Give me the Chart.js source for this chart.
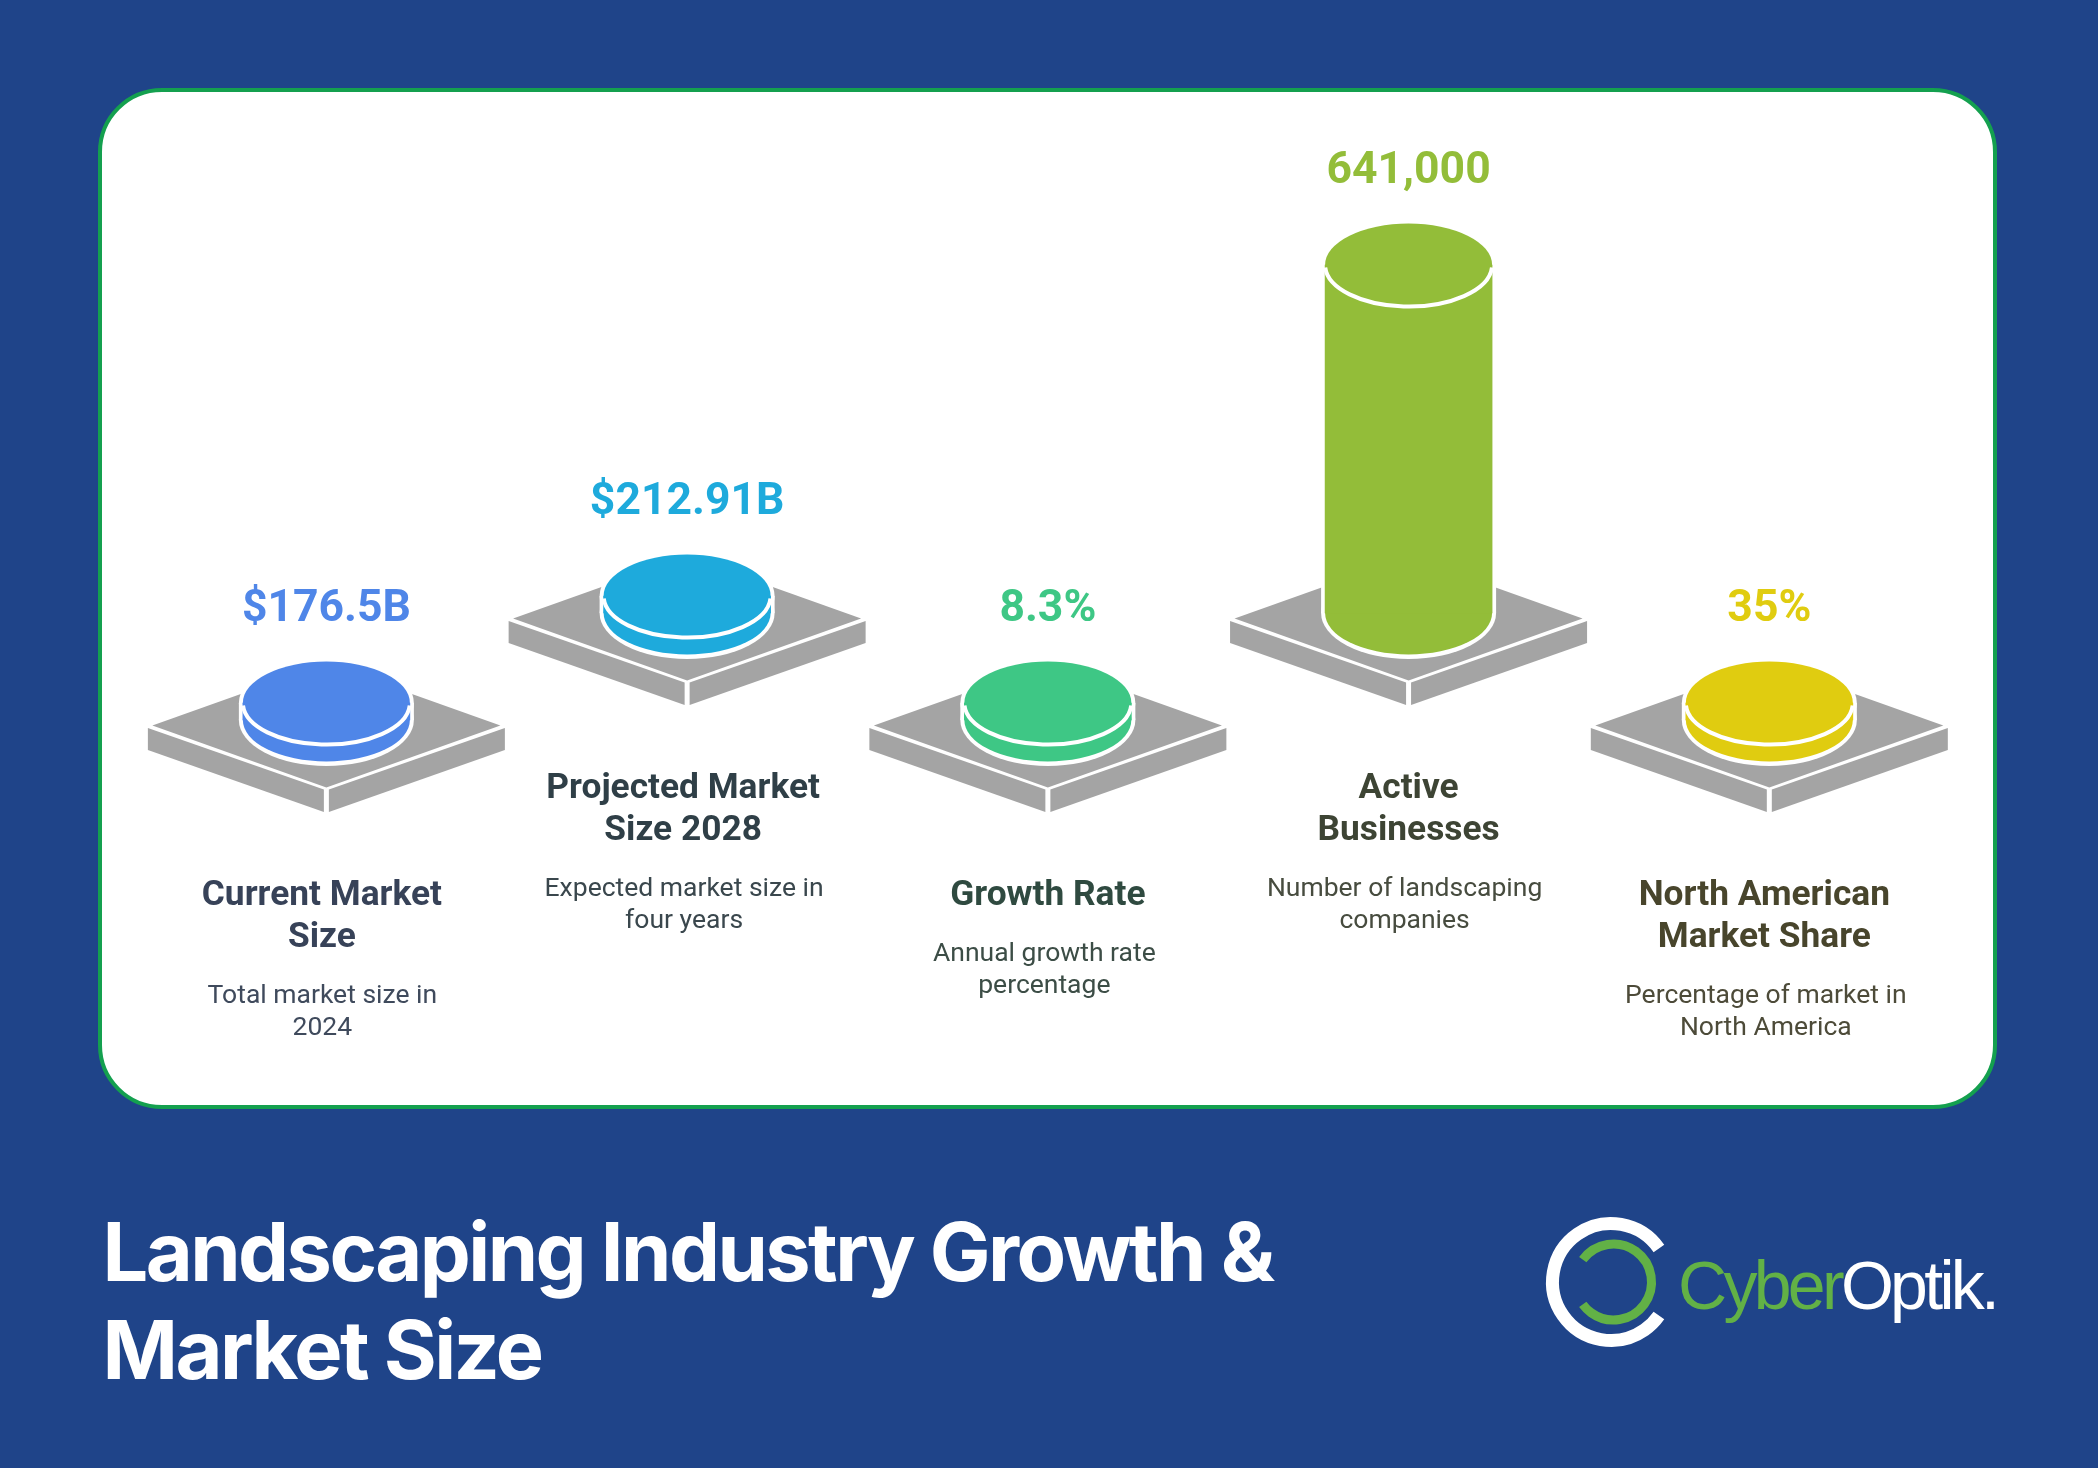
<!DOCTYPE html>
<html><head><meta charset="utf-8">
<script src="https://cdn.jsdelivr.net/npm/chart.js@4"></script>
<style>
html,body{margin:0;padding:0;background:#1f4489;width:2098px;height:1468px;overflow:hidden}
#card{position:absolute;left:98px;top:88px;width:1891px;height:1013px;background:#fff;border:4px solid #14a04f;border-radius:64px}
#wrap{position:absolute;left:0;top:0;width:2098px;height:1468px}
#title{position:absolute;left:102.5px;top:1203px;color:#fff;font:700 81px/98px Inter,sans-serif;letter-spacing:-2.55px;white-space:nowrap}
#brand{position:absolute;left:1678px;top:1245px;font:400 68px/80px "Liberation Sans",sans-serif;letter-spacing:-3.7px;white-space:nowrap}
#brand .a{color:#62b146}#brand .b{color:#fff}
</style></head><body>
<div id="card"></div>
<div id="wrap"><canvas id="c" width="2098" height="1468"></canvas></div>
<div id="title">Landscaping Industry Growth &amp;<br>Market Size</div>
<div id="brand"><span class="a">Cyber</span><span class="b">Optik.</span></div>
<script>
const categories=[['Current Market','Size'],['Projected Market','Size 2028'],['Growth Rate'],['Active','Businesses'],['North American','Market Share']];
const descriptions=[['Total market size in','2024'],['Expected market size in','four years'],['Annual growth rate','percentage'],['Number of landscaping','companies'],['Percentage of market in','North America']];
const valueLabels=['$176.5B','$212.91B','8.3%','641,000','35%'];
const columnHeights=[17,17,17,348,17];
const platformLevels=[0,107,0,107,0];
const barColors=['#4f86e8','#1eaadc','#3ec785','#93bd39','#e0cc10'];
const nameColors=['#374258','#2f3f47','#2f4a40','#3d4434','#48452c'];
const descColors=['#3f4a5c','#3a474d','#3c4d46','#474c3f','#4d4b39'];
const nameShift=[-4.5,-4,0,0,-5];
const descShift=[-4,-3,-3.5,-4,-3.5];

const RX=83.5,RY=41.5;
const cylinderPlugin={
 id:'cylinders',
 beforeDatasetsDraw(chart){
  const ctx=chart.ctx,els=chart.getDatasetMeta(0).data;
  els.forEach((el,i)=>{
   const x=el.x,b=el.base,t=el.y;
   ctx.fillStyle='#a4a4a4';
   poly(ctx,x,b,[[-174,5.5],[0,67.5],[174,5.5],[0,-56.5]]);
   poly(ctx,x,b,[[-178.5,8],[-2.5,69.5],[-2.5,92],[-178.5,30]]);
   poly(ctx,x,b,[[178.5,8],[2.5,69.5],[2.5,92],[178.5,30]]);
   ctx.fillStyle='#fff';
   ctx.beginPath();ctx.ellipse(x,b,RX+4,RY+4.5,0,0,Math.PI*2);ctx.fill();
   ctx.fillRect(x-RX-4,t,2*RX+8,b-t);
   ctx.beginPath();ctx.ellipse(x,t,RX+4,RY+4,0,0,Math.PI*2);ctx.fill();
   ctx.fillStyle=barColors[i];
   ctx.beginPath();ctx.ellipse(x,b,RX,RY,0,0,Math.PI*2);ctx.fill();
  });
 },
 afterDatasetsDraw(chart){
  const ctx=chart.ctx,els=chart.getDatasetMeta(0).data;
  ctx.save();
  els.forEach((el,i)=>{
   const x=el.x,b=el.base,t=el.y;
   ctx.fillStyle=barColors[i];ctx.strokeStyle='#fff';ctx.lineWidth=4;
   ctx.beginPath();ctx.ellipse(x,t,RX,RY,0,0,Math.PI*2);ctx.fill();
   ctx.beginPath();ctx.ellipse(x,t,RX,RY,0,0.06,Math.PI-0.06);ctx.stroke();
   ctx.textAlign='center';ctx.textBaseline='middle';
   ctx.fillStyle=barColors[i];ctx.font='700 44.5px Roboto';
   ctx.fillText(valueLabels[i],x,t-RY-51.5);
   let y=b+176.5;
   ctx.fillStyle=nameColors[i];ctx.font='700 35.3px Roboto';
   categories[i].forEach((s,k)=>{ctx.fillText(s,x+nameShift[i],y);if(k<categories[i].length-1)y+=42;});
   y+=57.5;
   ctx.fillStyle=descColors[i];ctx.font='400 26.5px Roboto';
   descriptions[i].forEach(s=>{ctx.fillText(s,x+descShift[i],y);y+=32;});
  });
  ctx.lineCap='butt';
  ctx.strokeStyle='#fff';ctx.lineWidth=13;
  ctx.beginPath();ctx.arc(1611,1282,58.5,-35*Math.PI/180,35*Math.PI/180,true);ctx.stroke();
  ctx.strokeStyle='#62b146';ctx.lineWidth=9;
  ctx.beginPath();ctx.arc(1613.5,1282,38,-144*Math.PI/180,144*Math.PI/180);ctx.stroke();
  ctx.restore();
 }
};
function poly(ctx,x,y,pts){ctx.beginPath();pts.forEach((p,k)=>k?ctx.lineTo(x+p[0],y+p[1]):ctx.moveTo(x+p[0],y+p[1]));ctx.closePath();ctx.fill();}

new Chart(document.getElementById('c'),{
 type:'bar',
 data:{labels:categories.map(c=>c.join(' ')),datasets:[{
  data:columnHeights.map((h,i)=>[platformLevels[i],platformLevels[i]+h]),
  backgroundColor:barColors,borderWidth:0,barThickness:167,borderSkipped:false
 }]},
 options:{
  responsive:false,animation:false,devicePixelRatio:1,
  layout:{padding:{left:146,right:148.3,top:0,bottom:0}},
  plugins:{legend:{display:false},tooltip:{enabled:false},title:{display:false}},
  scales:{
   x:{display:false,offset:true,grid:{display:false}},
   y:{display:false,min:-748,max:720,grid:{display:false}}
  }
 },
 plugins:[cylinderPlugin]
});
</script>
</body></html>
